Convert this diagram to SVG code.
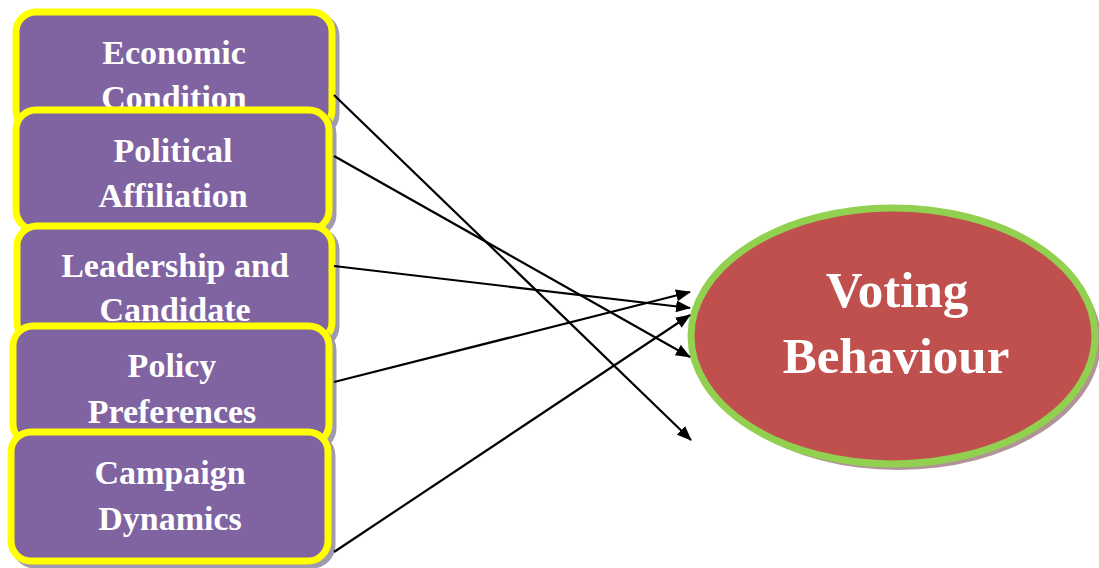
<svg xmlns="http://www.w3.org/2000/svg" width="1099" height="568" viewBox="0 0 1099 568">
<defs>
<style>
.shadow{fill:#a09aae;stroke:#a09aae;stroke-width:7}
.box{fill:#8064A2;stroke:#FFFF00;stroke-width:7}
.lbl{font-family:"Liberation Serif","Times New Roman",serif;font-weight:bold;font-size:34px;fill:#ffffff;text-anchor:middle}
.big{font-family:"Liberation Serif","Times New Roman",serif;font-weight:bold;font-size:51px;fill:#ffffff;text-anchor:middle}
.conn{stroke:#000;stroke-width:2.2;fill:none;marker-end:url(#ah)}
</style>
<marker id="ah" viewBox="0 0 15 12" refX="14" refY="6" markerWidth="15" markerHeight="12" markerUnits="userSpaceOnUse" orient="auto">
<path d="M0,0 L15,6 L0,12 z" fill="#000"/>
</marker>
</defs>
<rect width="1099" height="568" fill="#ffffff"/>
<g id="node-economic">
<rect class="shadow" x="20" y="16" width="316" height="118" rx="20"/>
<rect class="box" x="16" y="12" width="316" height="118" rx="20"/>
<text class="lbl" x="174" y="64">Economic</text>
<text class="lbl" x="174" y="109">Condition</text>
</g>
<g id="node-political">
<rect class="shadow" x="20" y="114" width="313" height="120" rx="20"/>
<rect class="box" x="16" y="110" width="313" height="120" rx="20"/>
<text class="lbl" x="173" y="162">Political</text>
<text class="lbl" x="173" y="207">Affiliation</text>
</g>
<g id="node-leadership">
<rect class="shadow" x="21" y="230" width="315" height="116" rx="20"/>
<rect class="box" x="17" y="226" width="315" height="116" rx="20"/>
<text class="lbl" x="175" y="277">Leadership and</text>
<text class="lbl" x="175" y="321">Candidate</text>
</g>
<g id="node-policy">
<rect class="shadow" x="17" y="330" width="316" height="118" rx="20"/>
<rect class="box" x="13" y="326" width="316" height="118" rx="20"/>
<text class="lbl" x="172" y="377">Policy</text>
<text class="lbl" x="172" y="423">Preferences</text>
</g>
<g id="node-campaign">
<rect class="shadow" x="15" y="436" width="317" height="129" rx="20"/>
<rect class="box" x="11" y="432" width="317" height="129" rx="20"/>
<text class="lbl" x="170" y="484">Campaign</text>
<text class="lbl" x="170" y="530">Dynamics</text>
</g>
<g id="node-voting">
<ellipse cx="898" cy="341" rx="203" ry="129" fill="#b09496"/>
<ellipse cx="893" cy="336" rx="202" ry="128" fill="#C0504D" stroke="#92D050" stroke-width="7"/>
<text class="big" x="897" y="307">Voting</text>
<text class="big" x="896" y="373">Behaviour</text>
</g>
<g id="connectors">
<line class="conn" x1="334" y1="95" x2="691" y2="440"/>
<line class="conn" x1="334" y1="156" x2="690" y2="357"/>
<line class="conn" x1="334" y1="266" x2="690" y2="308"/>
<line class="conn" x1="334" y1="382" x2="690" y2="292"/>
<line class="conn" x1="334" y1="552" x2="690" y2="315"/>
</g>
</svg>
